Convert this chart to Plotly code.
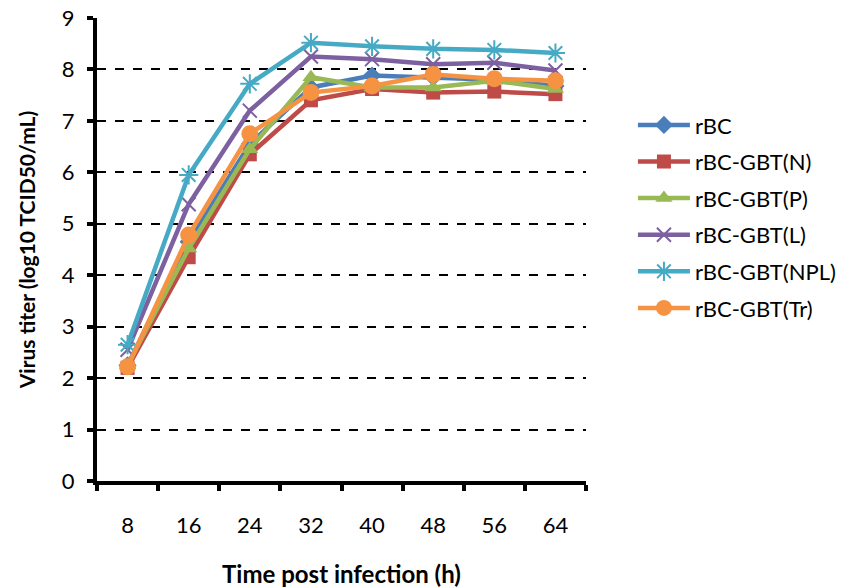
import plotly.graph_objects as go

hours = ["8", "16", "24", "32", "40", "48", "56", "64"]
series_names = ["rBC", "rBC-GBT(N)", "rBC-GBT(P)", "rBC-GBT(L)", "rBC-GBT(NPL)", "rBC-GBT(Tr)"]
rBC = [2.25, 4.65, 6.55, 7.65, 7.88, 7.85, 7.80, 7.68]
rBC_N = [2.20, 4.35, 6.35, 7.40, 7.62, 7.55, 7.57, 7.52]
rBC_P = [2.25, 4.52, 6.45, 7.85, 7.65, 7.65, 7.78, 7.62]
rBC_L = [2.55, 5.38, 7.20, 8.25, 8.20, 8.10, 8.13, 7.98]
rBC_NPL = [2.65, 5.95, 7.72, 8.52, 8.45, 8.40, 8.38, 8.32]
rBC_Tr = [2.22, 4.78, 6.75, 7.55, 7.68, 7.90, 7.82, 7.78]
y_ticks = [0, 1, 2, 3, 4, 5, 6, 7, 8, 9]

values = [rBC, rBC_N, rBC_P, rBC_L, rBC_NPL, rBC_Tr]
colors = ["#4A7EBB", "#BE4B48", "#98B954", "#7D60A0", "#46AAC5", "#F59343"]
symbols = ["diamond", "square", "triangle-up", "x-thin", "asterisk", "circle"]
sizes = [14, 14, 15, 14, 16, 17]

FONT = "Lato"

fig = go.Figure()
for i, (name, vals) in enumerate(zip(series_names, values)):
    fig.add_trace(go.Scatter(
        x=hours, y=vals, name=name, mode="lines+markers",
        legendgroup=name,
        line=dict(color=colors[i], width=4.5),
        marker=dict(symbol=symbols[i], size=sizes[i], color=colors[i],
                    line=dict(color=colors[i], width=2 if symbols[i] in ("x-thin", "asterisk") else 0)),
    ))

fig.update_layout(
    width=846, height=588,
    margin=dict(l=97, r=260, t=18, b=107, autoexpand=False),
    paper_bgcolor="white", plot_bgcolor="white",
    font=dict(family=FONT, color="black", size=21),
    showlegend=True,
    legend=dict(x=1.096, y=0.814, xanchor="left", yanchor="top",
                font=dict(family=FONT, size=22, color="black"),
                tracegroupgap=5, itemwidth=52,
                bgcolor="rgba(0,0,0,0)"),
    xaxis=dict(
        type="category", range=[-0.5, 7.5], automargin=False,
        showline=True, linecolor="black", linewidth=4,
        ticks="outside", tickson="boundaries", ticklen=6, tickwidth=4, tickcolor="black",
        showgrid=False, zeroline=False,
        ticklabelstandoff=22,
        tickfont=dict(family=FONT, size=22),
        title=dict(text="<b>Time post infection (h)</b>", font=dict(family=FONT, size=24), standoff=30),
    ),
    yaxis=dict(
        range=[0, 9], tickvals=y_ticks, automargin=False,
        showline=True, linecolor="black", linewidth=4,
        ticks="outside", ticklen=6, tickwidth=4, tickcolor="black",
        showgrid=True, gridcolor="black", gridwidth=2, griddash="dash",
        zeroline=False,
        ticklabelstandoff=8,
        tickfont=dict(family=FONT, size=22),
        title=dict(text="<b>Virus titer (log10 TCID50/mL)</b>", font=dict(family=FONT, size=21), standoff=21),
    ),
)

fig.write_html("out.html")
